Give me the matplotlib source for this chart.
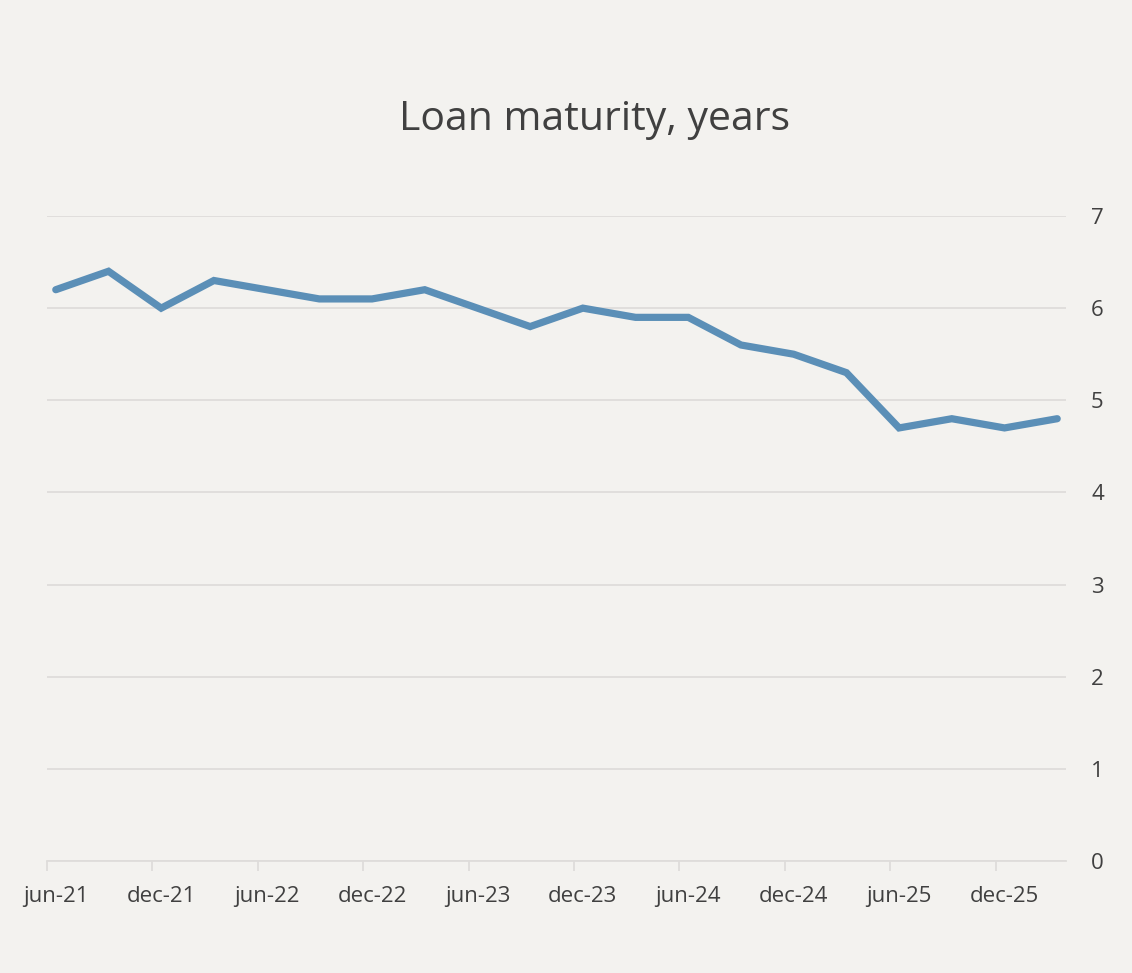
import matplotlib
matplotlib.use("Agg")
import matplotlib.pyplot as plt
from matplotlib.ticker import FixedLocator, NullFormatter

# quarterly observations, jun-21 .. mar-26
quarters = ["jun-21", "sep-21", "dec-21", "mar-22", "jun-22", "sep-22", "dec-22",
            "mar-23", "jun-23", "sep-23", "dec-23", "mar-24", "jun-24", "sep-24",
            "dec-24", "mar-25", "jun-25", "sep-25", "dec-25", "mar-26"]
maturity = [6.2, 6.4, 6.0, 6.3, 6.2, 6.1, 6.1, 6.2, 6.0, 5.8, 6.0, 5.9, 5.9, 5.6,
            5.5, 5.3, 4.7, 4.8, 4.7, 4.8]
tick_labels = ["jun-21", "dec-21", "jun-22", "dec-22", "jun-23", "dec-23",
               "jun-24", "dec-24", "jun-25", "dec-25"]
y_ticks = [0, 1, 2, 3, 4, 5, 6, 7]

bg = "#f3f2ef"
text_col = "#404040"
grid_col = "#dedcda"
line_col = "#5b8fb7"

plt.rcParams["font.family"] = ["Open Sans", "DejaVu Sans"]

# month offsets from jun-21 (date axis, monthly base unit)
months = [3 * i for i in range(len(quarters))]
label_pos = [6 * i for i in range(len(tick_labels))]

fig = plt.figure(figsize=(11.32, 9.73), dpi=100, facecolor=bg)
ax = fig.add_axes([47 / 1132, 112 / 973, (1066 - 47) / 1132, (861 - 216) / 973])
ax.set_facecolor(bg)

ax.plot(months, maturity, color=line_col, lw=5.2, solid_capstyle="round",
        solid_joinstyle="miter", zorder=3)

ax.set_xlim(-0.5, months[-1] + 0.5)
ax.set_ylim(0, 7)

ax.yaxis.tick_right()
ax.set_yticks(y_ticks)
ax.set_yticklabels([str(v) for v in y_ticks])
ax.tick_params(axis="y", length=0, pad=18, labelsize=16, colors=text_col)
ax.grid(axis="y", color=grid_col, lw=1.3)

# tick marks between months, labels centred on the month
ax.xaxis.set_major_locator(FixedLocator([p - 0.5 for p in label_pos]))
ax.xaxis.set_major_formatter(NullFormatter())
ax.xaxis.set_minor_locator(FixedLocator(label_pos))
ax.set_xticks(label_pos, minor=True)
ax.set_xticklabels(tick_labels, minor=True)
ax.tick_params(axis="x", which="major", length=7, width=1.3, color=grid_col)
ax.tick_params(axis="x", which="minor", length=0, pad=18, labelsize=16,
               labelcolor=text_col)

for s in ["top", "left", "right"]:
    ax.spines[s].set_visible(False)
ax.spines["bottom"].set_color(grid_col)
ax.spines["bottom"].set_linewidth(1.3)

fig.text(595 / 1132, 1 - 120 / 973, "Loan maturity, years", ha="center",
         va="center", fontsize=29.5, color=text_col)

fig.savefig("out.png", dpi=100, facecolor=bg)
